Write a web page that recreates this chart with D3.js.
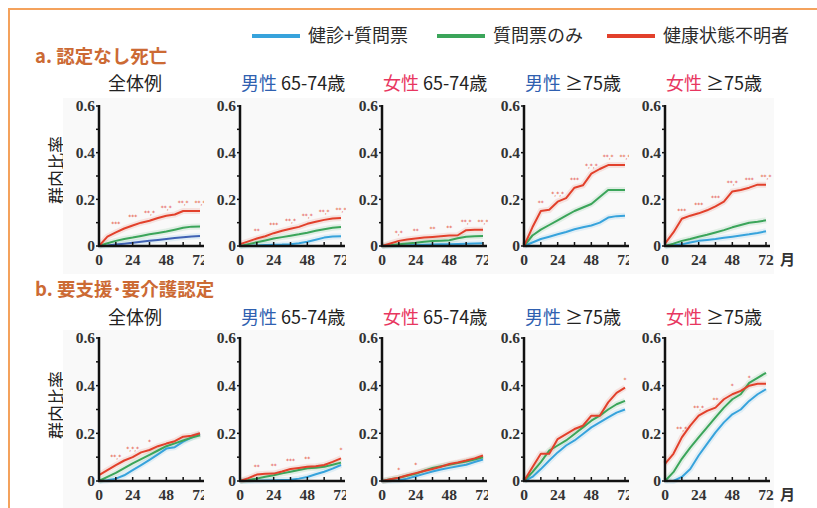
<!DOCTYPE html>
<html><head><meta charset="utf-8">
<script src="https://cdn.jsdelivr.net/npm/d3@7"></script>
<style>body{margin:0;background:#fff}svg{display:block}</style>
</head><body>
<svg id="c" width="817" height="508"></svg>
<script>
// ---- data ----
const months = [0,6,12,18,24,30,36,42,48,54,60,66,72];
const seriesNames = ["健診+質問票","質問票のみ","健康状態不明者"];
const seriesColors = ["#37a3dc","#3ba55a","#e2402b"];
const panelTitles = [["","全体例"],["男性"," 65-74歳"],["女性"," 65-74歳"],["男性"," ≥75歳"],["女性"," ≥75歳"]];
const sectionTitles = ["a. 認定なし死亡","b. 要支援･要介護認定"];
const yTicks = [0,0.2,0.4,0.6];
const yMinor = [0.1,0.3,0.5];
const xTicks = [0,24,48,72];
const xMinor = [12,36,60];

// a. death without certification
const deathBlue = [
 [0,0.002,0.006,0.01,0.014,0.018,0.022,0.026,0.03,0.034,0.038,0.041,0.043],
 [0,0.001,0.002,0.004,0.005,0.006,0.008,0.012,0.018,0.027,0.036,0.041,0.042],
 [0,0.001,0.002,0.003,0.004,0.005,0.006,0.007,0.008,0.009,0.01,0.011,0.012],
 [0,0.015,0.03,0.04,0.05,0.06,0.072,0.08,0.088,0.1,0.122,0.128,0.13],
 [0,0.003,0.007,0.015,0.022,0.026,0.03,0.035,0.04,0.045,0.05,0.056,0.063]];
const deathGreen = [
 [0,0.012,0.022,0.03,0.036,0.043,0.05,0.056,0.062,0.07,0.078,0.083,0.084],
 [0,0.008,0.016,0.024,0.032,0.038,0.044,0.05,0.057,0.065,0.072,0.078,0.081],
 [0,0.003,0.007,0.011,0.014,0.018,0.021,0.023,0.025,0.033,0.04,0.042,0.043],
 [0,0.045,0.07,0.09,0.11,0.13,0.15,0.165,0.18,0.21,0.24,0.24,0.24],
 [0,0.01,0.022,0.03,0.04,0.048,0.058,0.068,0.08,0.09,0.1,0.104,0.11]];
const deathRed = [
 [0,0.04,0.058,0.075,0.088,0.1,0.108,0.12,0.13,0.135,0.15,0.15,0.15],
 [0.008,0.02,0.032,0.042,0.055,0.065,0.074,0.082,0.095,0.104,0.112,0.118,0.12],
 [0,0.011,0.022,0.028,0.032,0.036,0.039,0.042,0.045,0.046,0.068,0.07,0.07],
 [0,0.08,0.15,0.155,0.19,0.205,0.25,0.26,0.31,0.33,0.347,0.347,0.347],
 [0.01,0.058,0.117,0.13,0.14,0.153,0.17,0.19,0.234,0.24,0.25,0.263,0.263]];

// b. support / care-need certification
const certBlue = [
 [0,0.003,0.01,0.024,0.046,0.067,0.089,0.112,0.136,0.142,0.165,0.182,0.198],
 [0,0,0.001,0.002,0.003,0.004,0.005,0.01,0.017,0.028,0.039,0.052,0.067],
 [0,0.001,0.003,0.01,0.02,0.03,0.04,0.048,0.055,0.062,0.068,0.08,0.09],
 [0,0.017,0.05,0.086,0.12,0.149,0.17,0.197,0.225,0.246,0.267,0.287,0.3],
 [0,0,0.017,0.05,0.107,0.156,0.204,0.246,0.28,0.3,0.336,0.364,0.385]];
const certGreen = [
 [0,0.017,0.034,0.054,0.074,0.092,0.11,0.128,0.146,0.158,0.17,0.182,0.192],
 [0,0.004,0.01,0.018,0.024,0.032,0.039,0.046,0.053,0.056,0.06,0.068,0.077],
 [0,0.007,0.014,0.022,0.03,0.043,0.055,0.062,0.068,0.075,0.082,0.09,0.1],
 [0,0.037,0.079,0.128,0.149,0.17,0.197,0.225,0.253,0.274,0.3,0.322,0.336],
 [0,0.037,0.093,0.14,0.183,0.225,0.267,0.308,0.343,0.364,0.412,0.433,0.454]];
const certRed = [
 [0.025,0.046,0.067,0.086,0.1,0.12,0.13,0.146,0.157,0.167,0.186,0.19,0.2],
 [0,0.012,0.027,0.03,0.031,0.04,0.05,0.055,0.06,0.062,0.067,0.08,0.095],
 [0,0.007,0.014,0.024,0.033,0.042,0.05,0.06,0.071,0.078,0.086,0.095,0.107],
 [0,0.058,0.114,0.114,0.176,0.197,0.218,0.232,0.274,0.274,0.33,0.37,0.392],
 [0.072,0.114,0.183,0.232,0.274,0.294,0.308,0.343,0.364,0.378,0.4,0.408,0.408]];

// significance marks above the red curve: [panel, month, label]
const deathMarks = [[0,12,"***"],[0,24,"***"],[0,36,"**,*"],[0,48,"**,*"],[0,60,"**,*"],[0,72,"**,*"],
 [1,12,"**"],[1,24,"***"],[1,36,"**,*"],[1,48,"**,*"],[1,60,"**,*"],[1,72,"**,*"],
 [2,12,"*,*"],[2,24,"**"],[2,36,"**"],[2,48,"**"],[2,60,"**,*"],[2,72,"**,*"],
 [3,12,"**"],[3,24,"*,*,*"],[3,36,"***"],[3,48,"*,*,*"],[3,60,"**,*"],[3,72,"**,*"],
 [4,12,"***"],[4,24,"***"],[4,36,"***"],[4,48,"**,*"],[4,60,"***"],[4,72,"**,*"]];
const certMarks = [[0,12,"**,*"],[0,24,"*,*,*"],[0,36,"*"],
 [1,12,"**"],[1,24,"**"],[1,36,"***"],[1,48,"**"],[1,72,"*"],
 [2,12,"*"],[2,24,"*"],[3,72,"*"],
 [4,12,"**,*"],[4,24,"**,*"],[4,36,"**"],[4,48,"*"],[4,60,"*"]];

// ---- drawing ----
const svg = d3.select("#c");
const W = 101, panelX = [99,240,382,524,665];
const rows = [
  {title:sectionTitles[0], titleY:63, ptY:90, y0:246, yTop:106, data:[deathBlue,deathGreen,deathRed], marks:deathMarks},
  {title:sectionTitles[1], titleY:296, ptY:324, y0:481, yTop:338, data:[certBlue,certGreen,certRed], marks:certMarks}];

// frame
svg.append("rect").attr("x",9).attr("y",9).attr("width",830).attr("height",530)
  .attr("fill","none").attr("stroke","#f4a25c").attr("stroke-width",2);

// legend
const lg = svg.append("g");
const legX = [252,437,607];
seriesNames.forEach((n,i)=>{
  lg.append("line").attr("x1",legX[i]).attr("x2",legX[i]+48).attr("y1",36).attr("y2",36)
    .attr("stroke",seriesColors[i]).attr("stroke-width",4);
  lg.append("text").attr("x",legX[i]+56).attr("y",42).text(n)
    .attr("font-family","Noto Sans CJK JP").attr("font-size",18).attr("fill","#2b2b2b");
});

const serif = "Liberation Serif";
rows.forEach((row,ri)=>{
  svg.append("text").attr("x",35).attr("y",row.titleY).text(row.title)
    .attr("font-family","Noto Sans CJK JP").attr("font-weight","bold").attr("font-size",18.5).attr("fill","#cc6a34");
  svg.append("text").attr("transform",`translate(63,${row.y0-76}) rotate(-90)`).attr("text-anchor","middle")
    .text("群内比率").attr("font-family","Noto Sans CJK JP").attr("font-size",17).attr("fill","#222");
  panelX.forEach((x0,pi)=>{
    const x = d3.scaleLinear().domain([0,72]).range([x0,x0+W]);
    const y = d3.scaleLinear().domain([0,0.6]).range([row.y0,row.yTop]);
    const g = svg.append("g");
    g.append("rect").attr("x",x0-36).attr("y",row.yTop-8).attr("width",W+44).attr("height",row.y0-row.yTop+36)
      .attr("fill","#f9f9f9");
    // title
    const t = g.append("text").attr("x",x0+(pi===0?9:1)).attr("y",row.ptY)
      .attr("font-family","Noto Sans CJK JP").attr("font-size",18).attr("fill","#222");
    if(panelTitles[pi][0]) t.append("tspan").text(panelTitles[pi][0]).attr("fill",panelTitles[pi][0]==="男性"?"#2f60b0":"#e83660");
    t.append("tspan").text(panelTitles[pi][1]);
    // curves
    const line = d3.line().x((d,i)=>x(months[i])).y(d=>y(d));
    row.data.forEach((s,si)=>{
      g.append("path").attr("d",line(s[pi])).attr("fill","none").attr("stroke",seriesColors[si])
        .attr("stroke-width",6).attr("stroke-opacity",0.12);
    });
    row.data.forEach((s,si)=>{
      const col = (ri===0 && pi===0 && si===0) ? "#3f62b4" : seriesColors[si];
      g.append("path").attr("d",line(s[pi])).attr("fill","none").attr("stroke",col)
        .attr("stroke-width",2).attr("stroke-linejoin","round");
    });
    // marks
    row.marks.filter(m=>m[0]===pi).forEach(m=>{
      const v = row.data[2][pi][months.indexOf(m[1])];
      g.append("text").attr("x",x(m[1])).attr("y",y(v)-6).attr("text-anchor","middle")
        .text(m[2]).attr("font-size",6).attr("font-family","DejaVu Sans").attr("fill","#e2402b");
    });
    // axes
    g.append("line").attr("x1",x0).attr("x2",x0).attr("y1",row.y0+1).attr("y2",row.yTop-1)
      .attr("stroke","#111").attr("stroke-width",2.5);
    g.append("line").attr("x1",x0-1).attr("x2",x0+W+4).attr("y1",row.y0).attr("y2",row.y0)
      .attr("stroke","#111").attr("stroke-width",2.5);
    yTicks.concat(yMinor).forEach(v=>{
      g.append("line").attr("x1",x0-3).attr("x2",x0).attr("y1",y(v)).attr("y2",y(v)).attr("stroke","#111").attr("stroke-width",1.5);
    });
    xTicks.concat(xMinor).forEach(m=>{
      g.append("line").attr("x1",x(m)).attr("x2",x(m)).attr("y1",row.y0).attr("y2",row.y0-4).attr("stroke","#111").attr("stroke-width",1.5);
    });
    yTicks.forEach(v=>{
      g.append("text").attr("x",x0-4).attr("y",y(v)).attr("dy","0.35em").attr("text-anchor","end")
        .text(v===0?"0":v.toFixed(1)).attr("font-family",serif).attr("font-weight","bold").attr("font-size",15.5).attr("fill","#333");
    });
    xTicks.forEach(m=>{
      g.append("text").attr("x",x(m)).attr("y",row.y0+19).attr("text-anchor","middle")
        .text(m).attr("font-family",serif).attr("font-weight","bold").attr("font-size",15.5).attr("fill","#333");
    });
    if(pi===4){
      g.append("text").attr("x",x(72)+14).attr("y",row.y0+19).text("月")
        .attr("font-family","Noto Sans CJK JP").attr("font-weight","bold").attr("font-size",15).attr("fill","#333");
    }
  });
});
</script>
</body></html>
